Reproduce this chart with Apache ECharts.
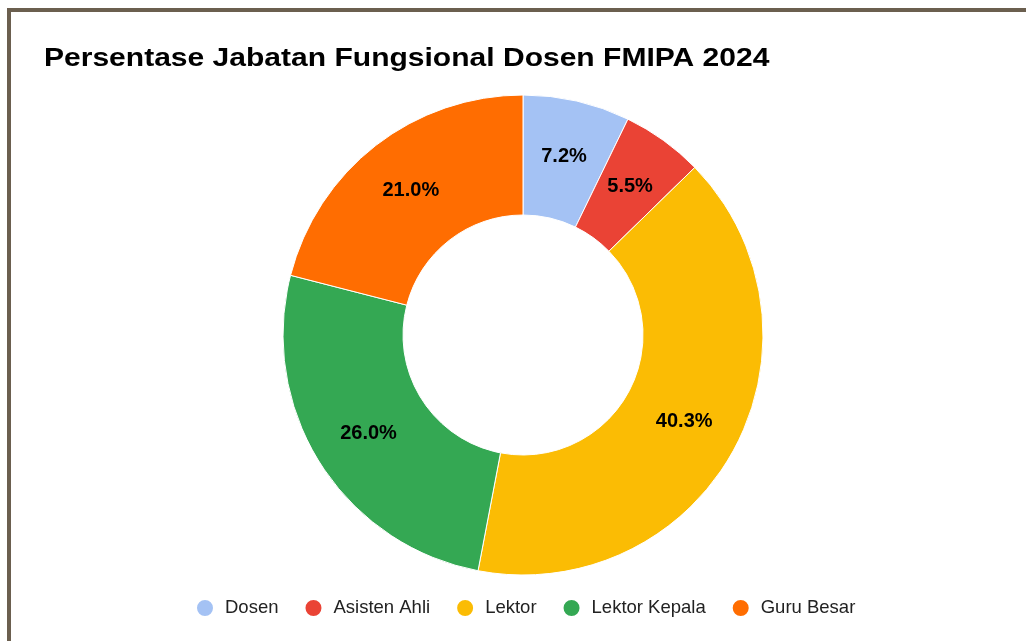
<!DOCTYPE html>
<html>
<head>
<meta charset="utf-8">
<script src="https://cdn.jsdelivr.net/npm/echarts@6/dist/echarts.min.js"></script>
<style>
html,body{margin:0;padding:0;background:#fff;overflow:hidden;}
#frame{position:absolute;left:7px;top:8px;width:1040px;height:660px;border:4px solid #6b5f4f;box-sizing:border-box;}
#chart{position:absolute;left:0;top:0;width:1026px;height:641px;}
</style>
</head>
<body>
<div id="frame"></div>
<div id="chart"></div>
<script>
const titleText = 'Persentase Jabatan Fungsional Dosen FMIPA 2024';
const categories = ['Dosen', 'Asisten Ahli', 'Lektor', 'Lektor Kepala', 'Guru Besar'];
const values = [7.2, 5.5, 40.3, 26.0, 21.0];
const colors = ['#a4c2f4', '#ea4335', '#fbbc04', '#34a853', '#ff6d01'];

const FONT = '"Liberation Sans", Arial, sans-serif';
const chart = echarts.init(document.getElementById('chart'), null, {renderer: 'canvas'});
chart.setOption({
  backgroundColor: 'transparent',
  animation: false,
  color: colors,
  graphic: [{
    type: 'text',
    x: 44, y: 59,
    scaleX: 1.155,
    style: {
      text: titleText,
      x: 0, y: 0,
      align: 'left', verticalAlign: 'middle',
      fontFamily: FONT, fontWeight: 'bold', fontSize: 26,
      fill: '#000'
    }
  }],
  legend: {
    top: 593, left: 190,
    icon: 'circle', itemWidth: 30, itemHeight: 18, itemGap: 25,
    textStyle: {fontFamily: FONT, fontSize: 18.5, color: '#222'},
    data: categories
  },
  series: [{
    type: 'pie',
    center: [523, 335],
    radius: [120, 240],
    startAngle: 90,
    clockwise: true,
    avoidLabelOverlap: false,
    itemStyle: {borderColor: '#fff', borderWidth: 1},
    label: {
      position: 'inside',
      formatter: p => p.value.toFixed(1) + '%',
      fontFamily: FONT,
      fontWeight: 'bold', fontSize: 20, color: '#000'
    },
    labelLine: {show: false},
    data: categories.map((c, i) => ({name: c, value: values[i]}))
  }]
});
</script>
</body>
</html>
